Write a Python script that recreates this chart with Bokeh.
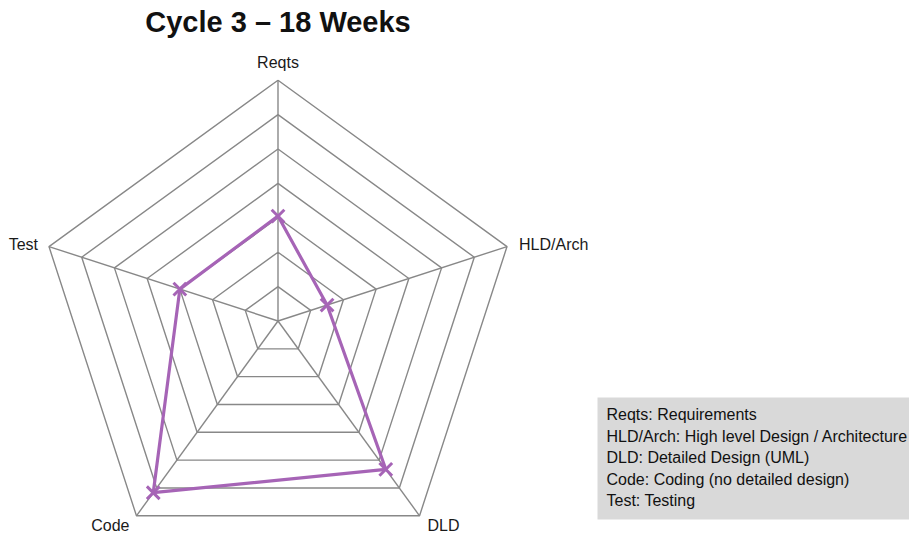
import numpy as np
from bokeh.plotting import figure
from bokeh.models import Range1d
from bokeh.core.properties import value
from bokeh.embed import file_html
from bokeh.resources import INLINE

# ---- data ----
title_text = "Cycle 3 \u2013 18 Weeks"
categories = ["Reqts", "HLD/Arch", "DLD", "Code", "Test"]
values = [3.05, 1.5, 5.33, 6.17, 3.0]
ring_levels = [1, 2, 3, 4, 5, 6, 7]
legend_lines = [
    "Reqts: Requirements",
    "HLD/Arch: High level Design / Architecture",
    "DLD: Detailed Design (UML)",
    "Code: Coding (no detailed design)",
    "Test: Testing",
]

# ---- layout constants ----
W, H = 909, 536
S = 34.4                 # pixels per unit
CX, CY = 277.5, 320.5    # radar centre in plot pixels
FONT = "Liberation Sans"
GRID = "#888888"
PURPLE = "#a664b6"

def dx(px):
    return (px - CX) / S

def dy(py):
    return (CY - py) / S

p = figure(width=W, height=H, output_backend="svg", toolbar_location=None,
           x_range=Range1d(dx(0), dx(W)), y_range=Range1d(dy(H), dy(0)),
           min_border=0, outline_line_color=None)
p.axis.visible = False
p.grid.visible = False
p.background_fill_color = "white"
p.border_fill_color = "white"

n = len(categories)
ang = np.pi / 2 - 2 * np.pi * np.arange(n) / n
rmax = max(ring_levels)

# rings
for r in ring_levels:
    xs = list(r * np.cos(ang)) + [r * np.cos(ang[0])]
    ys = list(r * np.sin(ang)) + [r * np.sin(ang[0])]
    p.line(xs, ys, line_color=GRID, line_width=1.4)

# spokes
for a in ang:
    p.line([0, rmax * np.cos(a)], [0, rmax * np.sin(a)], line_color=GRID, line_width=1.4)

# series
v = np.array(values)
sx = list(v * np.cos(ang)) + [v[0] * np.cos(ang[0])]
sy = list(v * np.sin(ang)) + [v[0] * np.sin(ang[0])]
p.line(sx, sy, line_color=PURPLE, line_width=3.2)
p.scatter(v * np.cos(ang), v * np.sin(ang), marker="x", size=18,
          line_color=PURPLE, line_width=3)

# category labels
vx = rmax * np.cos(ang)
vy = rmax * np.sin(ang)
lab_align = ["center", "left", "left", "right", "right"]
lab_xo = [0, 12, 8, -7, -11]
lab_yo = [-18, -2, 10, 10, -2]
for i, c in enumerate(categories):
    p.text([vx[i]], [vy[i]], text=[c], text_font=value(FONT), text_font_size="16px",
           text_align=lab_align[i], text_baseline="middle", text_color="#1a1a1a",
           x_offset=lab_xo[i], y_offset=lab_yo[i])

# title
p.text([0], [dy(21)], text=[title_text], text_font=value(FONT),
       text_font_size="29px", text_font_style="bold", text_align="center",
       text_baseline="middle", text_color="#111111")

# legend box
bl, br, bt, bb = 597, W, 397, 519
p.quad(left=[dx(bl)], right=[dx(br)], top=[dy(bt)], bottom=[dy(bb)],
       fill_color="#d9d9d9", line_color=None)
line_y0 = 414
for k, t in enumerate(legend_lines):
    p.text([dx(bl + 9)], [dy(line_y0 + k * 21.5)], text=[t], text_font=value(FONT),
           text_font_size="16px", text_align="left", text_baseline="middle",
           text_color="#111111")

open("out.html", "w").write(file_html(p, INLINE))
